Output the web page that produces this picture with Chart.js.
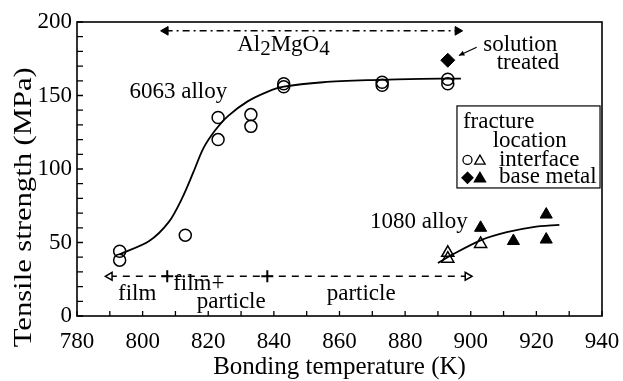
<!DOCTYPE html>
<html>
<head>
<meta charset="utf-8">
<script src="https://cdn.jsdelivr.net/npm/chart.js@4.4.0/dist/chart.umd.min.js"></script>
<style>
  html, body { margin: 0; padding: 0; background: #fff; }
  #wrap { width: 623px; height: 381px; }
</style>
</head>
<body>
<div id="wrap"><canvas id="chart" width="623" height="381"></canvas></div>
<script>
(function () {
  "use strict";

  // --- values ---
  var tempLabels = [780, 800, 820, 840, 860, 880, 900, 920, 940];
  var strengthLabels = [0, 50, 100, 150, 200];

  // 6063 alloy, fractured at interface (open circles)
  var alloy6063Temp = [793, 793, 813, 823, 823, 833, 833, 843, 843, 873, 873, 893, 893];
  var alloy6063Strength = [44, 38, 55, 135, 120, 137, 129, 158, 156, 159, 157, 161, 158];

  // solution treated, base metal (filled diamond)
  var solutionTemp = [893];
  var solutionStrength = [174];

  // 1080 alloy, interface (open triangles) and base metal (filled triangles)
  var alloy1080IfTemp = [893, 893, 903];
  var alloy1080IfStrength = [43, 39, 49];
  var alloy1080BaseTemp = [903, 913, 923, 923];
  var alloy1080BaseStrength = [60, 51, 69, 52];

  // hand-drawn trend curves
  var fit6063Temp = [793, 802, 808, 812, 815.5, 818.5, 822, 826, 832, 838, 843, 855, 870, 885, 897];
  var fit6063Strength = [42, 51, 64, 80, 98, 114, 126, 136, 146, 152.5, 156, 159, 160.5, 161.3, 161.5];
  var fit1080Temp = [890, 895, 903, 911, 919, 927];
  var fit1080Strength = [36, 42.5, 51.5, 57, 60.5, 62];

  // range arrows
  var spinelRange = [807, 896];
  var spinelLevel = 194;
  var morphRange = [790, 899];
  var morphLevel = 27;
  var morphBounds = [807.5, 838];

  function pts(xs, ys) {
    return xs.map(function (x, i) { return { x: x, y: ys[i] }; });
  }
  function flat(xs, level) {
    return xs.map(function (x) { return { x: x, y: level }; });
  }

  var FONT = "'Liberation Serif', 'Times New Roman', serif";
  var CLEAR = "rgba(0,0,0,0)";

  // frame + inward ticks + y title (sits lower than the axis centre in the original)
  var framePlugin = {
    id: "frame",
    beforeDatasetsDraw: function (chart) {
      var ctx = chart.ctx;
      var a = chart.chartArea;
      var xs = chart.scales.x;
      var ys = chart.scales.y;
      ctx.save();
      ctx.strokeStyle = "#000";
      ctx.lineWidth = 1.6;
      ctx.strokeRect(a.left, a.top, a.right - a.left, a.bottom - a.top);
      ctx.lineWidth = 1.3;
      ctx.beginPath();
      xs.ticks.forEach(function (t) {
        var px = xs.getPixelForValue(t.value);
        ctx.moveTo(px, a.bottom);
        ctx.lineTo(px, a.bottom - 5);
      });
      ys.ticks.forEach(function (t) {
        var py = ys.getPixelForValue(t.value);
        ctx.moveTo(a.left, py);
        ctx.lineTo(a.left + 6, py);
      });
      ctx.stroke();

      var label = "Tensile strength (MPa)";
      ctx.font = "26px " + FONT;
      var w = ctx.measureText(label).width;
      ctx.translate(24, ys.getPixelForValue(74));
      ctx.rotate(-Math.PI / 2);
      ctx.scale(280 / w, 1);
      ctx.fillStyle = "#000";
      ctx.textAlign = "center";
      ctx.textBaseline = "middle";
      ctx.fillText(label, 0, 0);
      ctx.restore();
    }
  };

  function symbol(ctx, style, x, y, r, filled) {
    ctx.beginPath();
    if (style === "circle") {
      ctx.arc(x, y, r, 0, Math.PI * 2);
    } else if (style === "triangle") {
      ctx.moveTo(x, y - r);
      ctx.lineTo(x + r * 0.866, y + r * 0.5);
      ctx.lineTo(x - r * 0.866, y + r * 0.5);
      ctx.closePath();
    } else {
      ctx.moveTo(x, y - r);
      ctx.lineTo(x + r, y);
      ctx.lineTo(x, y + r);
      ctx.lineTo(x - r, y);
      ctx.closePath();
    }
    if (filled) ctx.fill();
    ctx.stroke();
  }

  // labels, leader arrow and legend box (placed in data units)
  var notesPlugin = {
    id: "notes",
    afterDatasetsDraw: function (chart) {
      var ctx = chart.ctx;
      var xs = chart.scales.x;
      var ys = chart.scales.y;
      function X(v) { return xs.getPixelForValue(v); }
      function Y(v) { return ys.getPixelForValue(v); }
      ctx.save();
      ctx.fillStyle = "#000";
      ctx.strokeStyle = "#000";
      ctx.textAlign = "left";
      ctx.textBaseline = "alphabetic";
      ctx.font = "23px " + FONT;

      function text(s, x, y) { ctx.fillText(s, X(x), Y(y)); }
      text("6063 alloy", 796, 148);
      text("1080 alloy", 869.3, 60);
      text("solution", 903.8, 180.5);
      text("treated", 907.9, 167.8);
      text("film", 792.5, 11);
      text("film+", 809.3, 17.7);
      text("particle", 816.5, 5.4);
      text("particle", 856.1, 11);

      // Al2MgO4 with subscripts
      var cx = X(828.8), by = Y(180.3);
      var parts = [["Al", 0], ["2", 1], ["MgO", 0], ["4", 1]];
      parts.forEach(function (p) {
        ctx.font = (p[1] ? "21px " : "23px ") + FONT;
        ctx.fillText(p[0], cx, by + (p[1] ? 4 : 0));
        cx += ctx.measureText(p[0]).width;
      });

      // leader arrow to the solution-treated point
      var x0 = X(901.8), y0 = Y(182.8), x1 = X(896.4), y1 = Y(177.2);
      ctx.lineWidth = 1.3;
      ctx.beginPath();
      ctx.moveTo(x0, y0);
      ctx.lineTo(x1, y1);
      ctx.stroke();
      var ang = Math.atan2(y1 - y0, x1 - x0);
      ctx.beginPath();
      ctx.moveTo(x1, y1);
      ctx.lineTo(x1 - 6 * Math.cos(ang - 0.45), y1 - 6 * Math.sin(ang - 0.45));
      ctx.lineTo(x1 - 6 * Math.cos(ang + 0.45), y1 - 6 * Math.sin(ang + 0.45));
      ctx.closePath();
      ctx.fill();

      // fracture location key
      var bx0 = X(895.8), by0 = Y(142.9), bx1 = X(939.4), by1 = Y(87.1);
      ctx.fillStyle = "#fff";
      ctx.fillRect(bx0, by0, bx1 - bx0, by1 - by0);
      ctx.fillStyle = "#000";
      ctx.lineWidth = 1.2;
      ctx.strokeRect(bx0, by0, bx1 - bx0, by1 - by0);
      ctx.font = "23px " + FONT;
      text("fracture", 897.6, 128);
      text("location", 906.7, 115.2);
      text("interface", 908.6, 102.2);
      text("base metal", 908.6, 90.3);
      ctx.lineWidth = 1.3;
      symbol(ctx, "circle", X(899), Y(106.2), 4.5, false);
      symbol(ctx, "triangle", X(902.8), Y(105.4), 6, false);
      symbol(ctx, "diamond", X(899), Y(94), 5.5, true);
      symbol(ctx, "triangle", X(902.8), Y(93.4), 6.5, true);
      ctx.restore();
    }
  };

  new Chart(document.getElementById("chart"), {
    type: "scatter",
    data: {
      datasets: [
        {
          data: pts(alloy6063Temp, alloy6063Strength),
          pointStyle: "circle", pointRadius: 6, pointBorderWidth: 1.5,
          borderColor: "#000", backgroundColor: CLEAR
        },
        {
          data: pts(solutionTemp, solutionStrength),
          pointStyle: "rectRot", pointRadius: 7, pointBorderWidth: 1,
          borderColor: "#000", backgroundColor: "#000"
        },
        {
          data: pts(alloy1080IfTemp, alloy1080IfStrength),
          pointStyle: "triangle", pointRadius: 7, pointBorderWidth: 1.5,
          borderColor: "#000", backgroundColor: CLEAR
        },
        {
          data: pts(alloy1080BaseTemp, alloy1080BaseStrength),
          pointStyle: "triangle", pointRadius: 7, pointBorderWidth: 1,
          borderColor: "#000", backgroundColor: "#000"
        },
        {
          data: pts(fit6063Temp, fit6063Strength),
          showLine: true, pointRadius: 0, borderColor: "#000", borderWidth: 1.8,
          tension: 0.3
        },
        {
          data: pts(fit1080Temp, fit1080Strength),
          showLine: true, pointRadius: 0, borderColor: "#000", borderWidth: 1.8,
          tension: 0.3
        },
        {
          data: flat(spinelRange, spinelLevel),
          showLine: true, borderColor: "#000", borderWidth: 1.5, borderDash: [7, 4, 2, 4],
          pointStyle: "triangle", pointRadius: 5, pointRotation: [270, 90],
          pointBorderWidth: 1, backgroundColor: "#000"
        },
        {
          data: flat(morphRange, morphLevel),
          showLine: true, borderColor: "#000", borderWidth: 1.5, borderDash: [7, 6],
          pointStyle: "triangle", pointRadius: 4.5, pointRotation: [270, 90],
          pointBorderWidth: 1.5, backgroundColor: "#fff"
        },
        {
          data: flat(morphBounds, morphLevel),
          pointStyle: "cross", pointRadius: 6, pointBorderWidth: 2,
          borderColor: "#000", backgroundColor: "#000"
        }
      ]
    },
    options: {
      responsive: false,
      animation: false,
      events: [],
      layout: { padding: { left: 0, right: 21, top: 22, bottom: 0 } },
      plugins: { legend: { display: false }, tooltip: { enabled: false } },
      scales: {
        x: {
          type: "linear", min: 780, max: 940,
          grid: { display: false, drawTicks: false, tickLength: 0 }, border: { display: false },
          ticks: {
            stepSize: 10, autoSkip: false, maxRotation: 0, padding: 12,
            color: "#000", font: { family: FONT, size: 23 },
            callback: function (v) { return tempLabels.indexOf(v) >= 0 ? String(v) : ""; }
          },
          title: {
            display: true, text: "Bonding temperature (K)", color: "#000",
            font: { family: FONT, size: 25, lineHeight: 1 }, padding: { top: 0, bottom: 1 }
          },
          afterFit: function (s) { s.height = 65; s.paddingLeft = 0; s.paddingRight = 0; }
        },
        y: {
          type: "linear", min: 0, max: 200,
          grid: { display: false, drawTicks: false, tickLength: 0 }, border: { display: false },
          ticks: {
            stepSize: 10, autoSkip: false, padding: 5,
            color: "#000", font: { family: FONT, size: 23 },
            callback: function (v) { return strengthLabels.indexOf(v) >= 0 ? String(v) : ""; }
          },
          title: { display: false },
          afterFit: function (s) { s.width = 77; s.paddingTop = 0; s.paddingBottom = 0; }
        }
      }
    },
    plugins: [framePlugin, notesPlugin]
  });
})();
</script>
</body>
</html>
